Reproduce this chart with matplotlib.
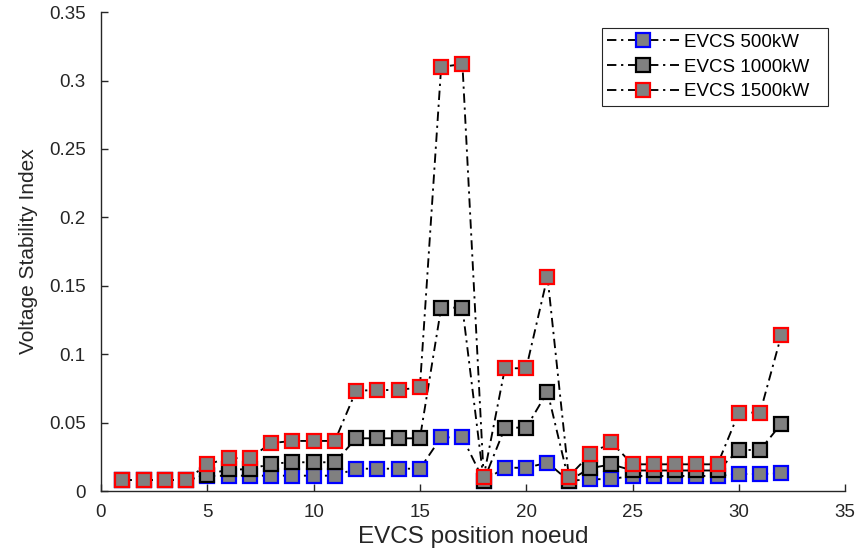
import matplotlib
matplotlib.use("Agg")
import matplotlib.pyplot as plt
import numpy as np

# EVCS bus positions and voltage stability index per charging station size
positions = np.arange(1, 33)

vsi_500kw = [0.008, 0.008, 0.008, 0.008, 0.011, 0.0112, 0.0112, 0.0112,
             0.0112, 0.0112, 0.0112, 0.0163, 0.0163, 0.0163, 0.0163, 0.0392,
             0.0392, 0.0075, 0.017, 0.017, 0.0207, 0.0075, 0.0085, 0.0088,
             0.011, 0.011, 0.011, 0.011, 0.011, 0.0124, 0.0124, 0.0129]

vsi_1000kw = [0.008, 0.008, 0.008, 0.008, 0.012, 0.0158, 0.0158, 0.020,
              0.021, 0.021, 0.021, 0.0385, 0.0385, 0.0385, 0.0385, 0.134,
              0.134, 0.0075, 0.0463, 0.0463, 0.0726, 0.0075, 0.0166, 0.0195,
              0.015, 0.015, 0.015, 0.015, 0.015, 0.030, 0.030, 0.0492]

vsi_1500kw = [0.008, 0.008, 0.008, 0.008, 0.0195, 0.024, 0.024, 0.035,
              0.0366, 0.0366, 0.0366, 0.0733, 0.0738, 0.0738, 0.0758, 0.310,
              0.312, 0.0105, 0.0897, 0.0897, 0.1567, 0.0105, 0.0268, 0.0356,
              0.0195, 0.0195, 0.0195, 0.0195, 0.0195, 0.0573, 0.0573, 0.114]

series = [
    ("EVCS 500kW", vsi_500kw, "#0000ff"),
    ("EVCS 1000kW", vsi_1000kw, "#000000"),
    ("EVCS 1500kW", vsi_1500kw, "#ff0000"),
]

plt.rcParams["font.family"] = ["Liberation Sans", "DejaVu Sans"]

fig = plt.figure(figsize=(8.58, 5.52), dpi=100)
ax = fig.add_axes([0.1177, 0.1105, 0.8673, 0.8675])

for label, vals, edge in series:
    ax.plot(positions, vals, linestyle="-.", dashes=(5, 2.5, 1.2, 2.5),
            color="black", lw=1.35,
            marker="s", ms=10, mfc="#808080", mec=edge, mew=1.6,
            label=label)

ax.set_xlim(0, 35)
ax.set_ylim(0, 0.35)
ax.set_xticks(np.arange(0, 36, 5))
ax.set_yticks(np.arange(0, 0.351, 0.05))
ax.set_yticklabels(["0", "0.05", "0.1", "0.15", "0.2", "0.25", "0.3", "0.35"])

for side in ("top", "right"):
    ax.spines[side].set_visible(False)
for side in ("left", "bottom"):
    ax.spines[side].set_color("#262626")
    ax.spines[side].set_linewidth(1.0)

ax.tick_params(direction="in", length=5, width=1.0, colors="#262626",
               labelsize=13.5)
ax.tick_params(axis="x", pad=9)
ax.tick_params(axis="y", pad=11)

ax.set_xlabel("EVCS position noeud", fontsize=17.5, color="#262626",
              labelpad=4)
ax.set_ylabel("Voltage Stability Index", fontsize=15, color="#262626",
              labelpad=8)

# legend box stretched to a fixed width in the upper right corner
leg = ax.legend(loc="upper left", mode="expand",
                bbox_to_anchor=(0.673, 0, 0.304, 0.9666),
                borderaxespad=0, fontsize=13.5, handlelength=3.8,
                fancybox=False, framealpha=1, edgecolor="#262626",
                borderpad=0.3, labelspacing=0.4, handletextpad=0.3)
leg.get_frame().set_linewidth(0.8)

fig.savefig("out.png", dpi=100)
